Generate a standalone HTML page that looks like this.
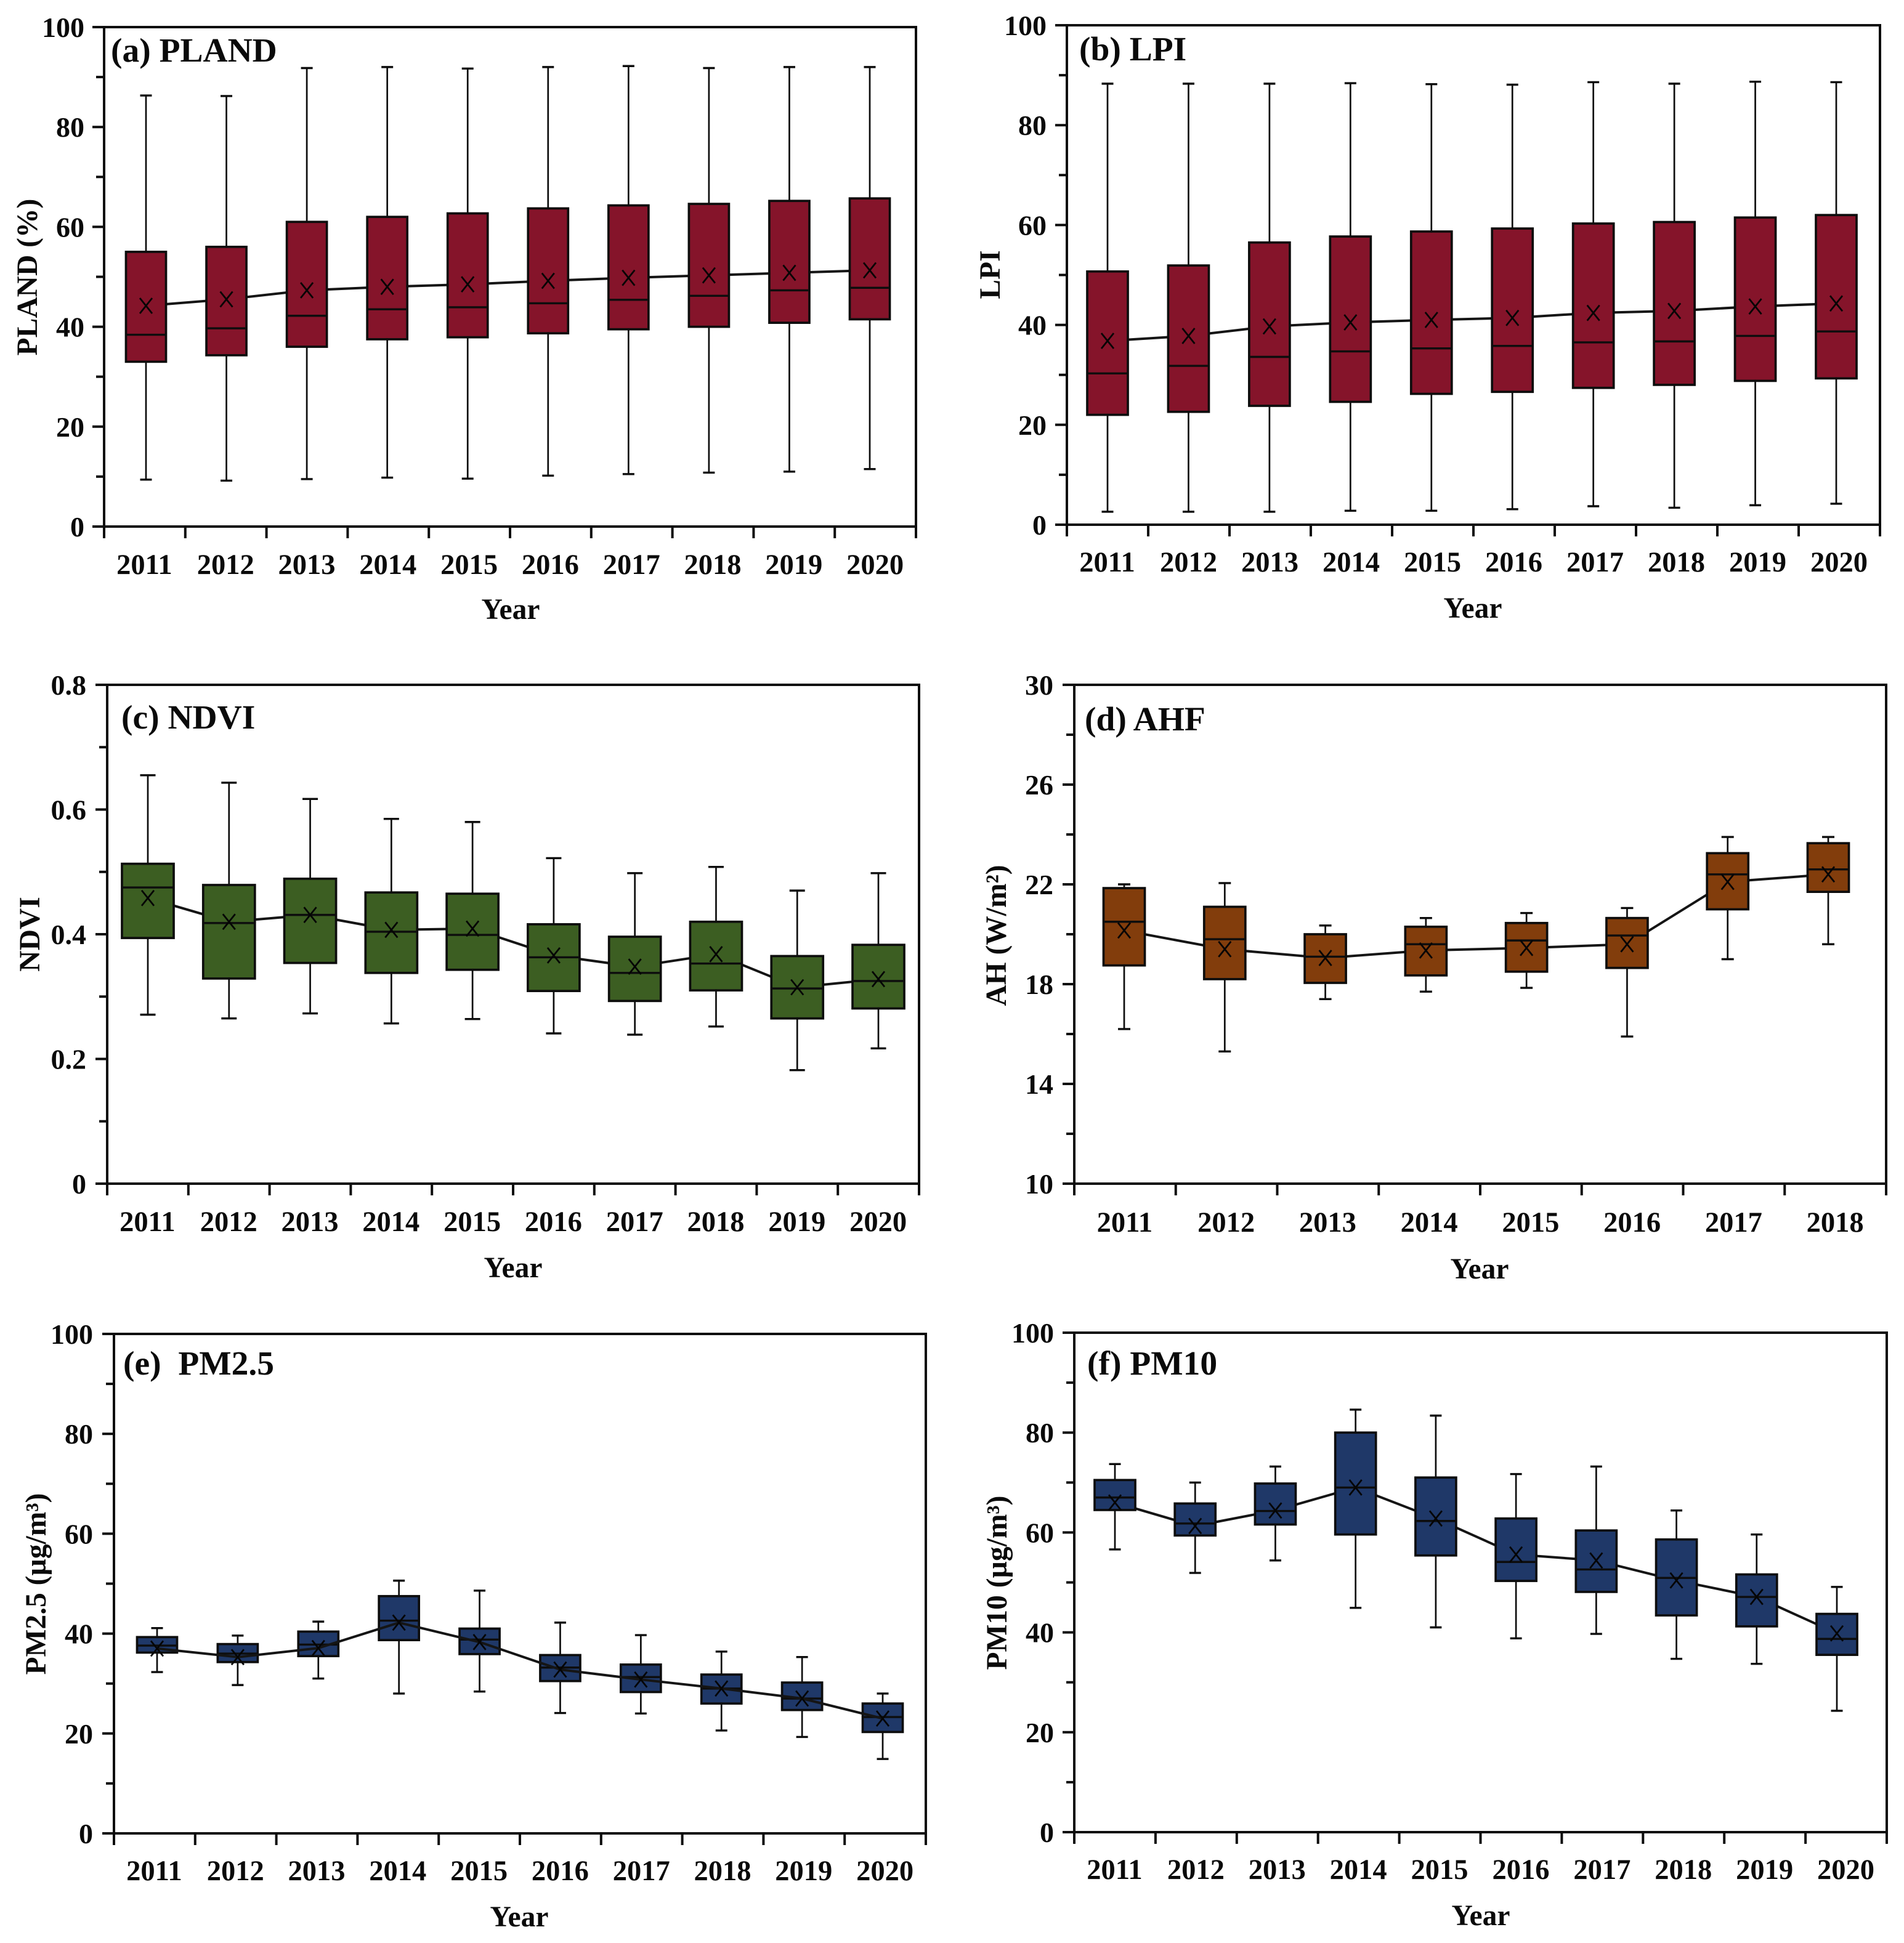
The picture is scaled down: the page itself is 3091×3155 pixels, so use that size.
<!DOCTYPE html>
<html lang="en">
<head>
<meta charset="utf-8">
<title>Boxplots of PLAND, LPI, NDVI, AHF, PM2.5 and PM10</title>
<style>
html,body{margin:0;padding:0;background:#fff;}
svg{display:block;font-family:"Liberation Serif","Noto Serif CJK SC",serif;font-weight:bold;fill:#0a0a0a;}
text{white-space:pre;}
</style>
</head>
<body>
<svg id="chart" xmlns="http://www.w3.org/2000/svg" width="3091" height="3155" viewBox="0 0 3091 3155"></svg>
<script>
const yearsTen = ['2011','2012','2013','2014','2015','2016','2017','2018','2019','2020'];
const yearsEight = ['2011','2012','2013','2014','2015','2016','2017','2018'];

const plandTicks = ['0','20','40','60','80','100'];
const plandHigh = [86.3,86.2,91.8,92,91.7,92,92.2,91.8,92,92];
const plandQ3 = [55,56,61,62,62.7,63.7,64.3,64.6,65.2,65.7];
const plandMedian = [38.4,39.7,42.2,43.5,43.9,44.7,45.4,46.2,47.3,47.8];
const plandMean = [44.2,45.5,47.3,48,48.5,49.2,49.8,50.3,50.8,51.3];
const plandQ1 = [33,34.3,36,37.5,37.9,38.7,39.5,40,40.8,41.5];
const plandLow = [9.4,9.2,9.5,9.8,9.6,10.2,10.5,10.8,11,11.5];

const lpiTicks = ['0','20','40','60','80','100'];
const lpiHigh = [88.3,88.3,88.3,88.4,88.2,88.1,88.6,88.3,88.7,88.6];
const lpiQ3 = [50.7,51.9,56.5,57.7,58.7,59.3,60.3,60.6,61.5,62];
const lpiMedian = [30.3,31.8,33.6,34.7,35.3,35.8,36.5,36.7,37.8,38.7];
const lpiMean = [36.8,37.8,39.7,40.5,41,41.4,42.4,42.8,43.7,44.3];
const lpiQ1 = [22,22.6,23.8,24.6,26.2,26.6,27.4,28,28.8,29.3];
const lpiLow = [2.6,2.6,2.6,2.8,2.8,3.1,3.7,3.4,3.9,4.2];

const ndviTicks = ['0','0.2','0.4','0.6','0.8'];
const ndviHigh = [0.655,0.643,0.617,0.585,0.58,0.522,0.498,0.508,0.47,0.498];
const ndviQ3 = [0.513,0.479,0.489,0.467,0.465,0.416,0.396,0.42,0.365,0.383];
const ndviMedian = [0.475,0.418,0.431,0.404,0.399,0.363,0.338,0.353,0.313,0.325];
const ndviMean = [0.458,0.42,0.431,0.407,0.409,0.366,0.348,0.368,0.315,0.328];
const ndviQ1 = [0.394,0.329,0.354,0.338,0.343,0.309,0.293,0.31,0.265,0.281];
const ndviLow = [0.271,0.265,0.273,0.257,0.264,0.241,0.239,0.252,0.182,0.217];

const ahfTicks = ['10','14','18','22','26','30'];
const ahfHigh = [22,22.05,20.35,20.65,20.85,21.05,23.9,23.9];
const ahfQ3 = [21.85,21.1,20,20.3,20.45,20.65,23.25,23.65];
const ahfMedian = [20.5,19.8,19.1,19.6,19.75,19.95,22.4,22.6];
const ahfMean = [20.15,19.4,19.05,19.35,19.45,19.6,22.1,22.4];
const ahfQ1 = [18.75,18.2,18.05,18.35,18.5,18.65,21,21.7];
const ahfLow = [16.2,15.3,17.4,17.7,17.85,15.9,19,19.6];

const pm25Ticks = ['0','20','40','60','80','100'];
const pm25High = [41.1,39.6,42.4,50.6,48.6,42.2,39.7,36.4,35.3,28];
const pm25Q3 = [39.3,37.9,40.4,47.5,41,35.7,33.8,31.8,30.2,26];
const pm25Median = [37.6,36,37.8,42.6,38.8,33.2,31.3,29,27,23.3];
const pm25Mean = [37,35.3,37.1,42.2,38.3,32.8,30.8,29,27,23];
const pm25Q1 = [36.2,34.3,35.5,38.7,35.9,30.5,28.3,26,24.7,20.3];
const pm25Low = [32.3,29.7,31,28,28.4,24.1,24,20.6,19.3,14.9];

const pm10Ticks = ['0','20','40','60','80','100'];
const pm10High = [73.7,70,73.2,84.6,83.4,71.7,73.2,64.4,59.6,49.1];
const pm10Q3 = [70.5,65.8,69.8,80,71,62.8,60.4,58.6,51.6,43.7];
const pm10Median = [67,61.8,64.3,69,62.3,54.1,52.6,50.9,47.1,38.7];
const pm10Mean = [66,61.3,64.4,69,62.8,55.6,54.4,50.4,47.1,39.8];
const pm10Q1 = [64.5,59.4,61.6,59.6,55.4,50.3,48.1,43.4,41.2,35.5];
const pm10Low = [56.6,51.9,54.4,44.9,41,38.8,39.7,34.7,33.7,24.3];

const panels = [
  {id:'pland',title:'(a) PLAND',yTitle:'PLAND (%)',color:'#85142a',cats:yearsTen,ticks:plandTicks,
   high:plandHigh,q3:plandQ3,med:plandMedian,mean:plandMean,q1:plandQ1,low:plandLow,
   L:169,R:1487,T:44,B:855,boxW:65,capW:19,boxFirst:237,boxLast:1412,titleX:180,titleY:100,yTitleX:60,yTitleY:450,xTitleX:829,xTitleY:1005,tickLabelY:932,yLabelGap:32,lineOnTop:false},
  {id:'lpi',title:'(b) LPI',yTitle:'LPI',color:'#85142a',cats:yearsTen,ticks:lpiTicks,
   high:lpiHigh,q3:lpiQ3,med:lpiMedian,mean:lpiMean,q1:lpiQ1,low:lpiLow,
   L:1732,R:3052,T:41,B:852,boxW:66,capW:19,boxFirst:1798,boxLast:2981,titleX:1752,titleY:98,yTitleX:1623,yTitleY:446,xTitleX:2391,xTitleY:1003,tickLabelY:928,yLabelGap:33,lineOnTop:false},
  {id:'ndvi',title:'(c) NDVI',yTitle:'NDVI',color:'#3c5e22',cats:yearsTen,ticks:ndviTicks,
   high:ndviHigh,q3:ndviQ3,med:ndviMedian,mean:ndviMean,q1:ndviQ1,low:ndviLow,
   L:174,R:1492,T:1112,B:1922,boxW:84,capW:25,boxFirst:240,boxLast:1426,titleX:197,titleY:1183,yTitleX:64,yTitleY:1517,xTitleX:833,xTitleY:2074,tickLabelY:1999,yLabelGap:34,lineOnTop:false},
  {id:'ahf',title:'(d) AHF',yTitle:'AH (W/m²)',color:'#823d0c',cats:yearsEight,ticks:ahfTicks,
   high:ahfHigh,q3:ahfQ3,med:ahfMedian,mean:ahfMean,q1:ahfQ1,low:ahfLow,
   L:1744,R:3062,T:1112,B:1922,boxW:67,capW:20,boxFirst:1825,boxLast:2968,titleX:1761,titleY:1186,yTitleX:1633,yTitleY:1519,xTitleX:2402,xTitleY:2076,tickLabelY:2000,yLabelGap:34,lineOnTop:false},
  {id:'pm25',title:'(e)  PM2.5',yTitle:'PM2.5 (µg/m³)',color:'#1f3868',cats:yearsTen,ticks:pm25Ticks,
   high:pm25High,q3:pm25Q3,med:pm25Median,mean:pm25Mean,q1:pm25Q1,low:pm25Low,
   L:185,R:1503,T:2166,B:2977,boxW:65,capW:19,boxFirst:255,boxLast:1433,titleX:200,titleY:2232,yTitleX:74,yTitleY:2572,xTitleX:843,xTitleY:3128,tickLabelY:3053,yLabelGap:34,lineOnTop:true},
  {id:'pm10',title:'(f) PM10',yTitle:'PM10 (µg/m³)',color:'#1f3868',cats:yearsTen,ticks:pm10Ticks,
   high:pm10High,q3:pm10Q3,med:pm10Median,mean:pm10Mean,q1:pm10Q1,low:pm10Low,
   L:1744,R:3063,T:2164,B:2975,boxW:66,capW:19,boxFirst:1810,boxLast:2982,titleX:1765,titleY:2232,yTitleX:1634,yTitleY:2570,xTitleX:2404,xTitleY:3126,tickLabelY:3051,yLabelGap:33,lineOnTop:false}
];

const INK = '#0d0d0d';
const SVGNS = 'http://www.w3.org/2000/svg';
const root = document.getElementById('chart');

function make(tag, attrs, parent) {
  const node = document.createElementNS(SVGNS, tag);
  for (const key in attrs) node.setAttribute(key, attrs[key]);
  parent.appendChild(node);
  return node;
}
function seg(parent, x1, y1, x2, y2, width, color) {
  return make('line', {x1:x1, y1:y1, x2:x2, y2:y2, stroke:color || INK, 'stroke-width':width, fill:'none'}, parent);
}

function drawPanel(p) {
  const panel = make('g', {}, root);
  
  

  const tickNums = p.ticks.map(Number);
  const yMin = tickNums[0];
  const yMax = tickNums[tickNums.length - 1];
  const yScale = v => p.B - (v - yMin) / (yMax - yMin) * (p.B - p.T);
  const band = (p.R - p.L) / p.cats.length;
  const xEdge = i => p.L + band * i;
  const xLabel = i => p.L + band * (i + 0.5);
  const xScale = i => p.boxFirst + (p.boxLast - p.boxFirst) * i / (p.cats.length - 1);
  let el;

  // mean connecting line (behind boxes unless lineOnTop)
  function drawMeanLine() {
    const pts = p.mean.map((v, i) => xScale(i).toFixed(1) + ',' + yScale(v).toFixed(1)).join(' ');
    el = make('polyline', {points:pts, fill:'none', stroke:'#151515', 'stroke-width':4, 'stroke-linejoin':'round'}, panel);
    
    
  }
  if (!p.lineOnTop) drawMeanLine();

  // boxes
  const boxLayer = make('g', {}, panel);
  
  
  p.cats.forEach((year, i) => {
    const cx = xScale(i);
    const g = make('g', {}, boxLayer);
    
    

    el = seg(g, cx, yScale(p.high[i]), cx, yScale(p.q3[i]), 2.7);
    
    

    el = seg(g, cx, yScale(p.q1[i]), cx, yScale(p.low[i]), 2.7);
    
    

    el = seg(g, cx - p.capW / 2, yScale(p.high[i]), cx + p.capW / 2, yScale(p.high[i]), 3.4);
    
    

    el = seg(g, cx - p.capW / 2, yScale(p.low[i]), cx + p.capW / 2, yScale(p.low[i]), 3.4);
    
    

    el = make('rect', {x:cx - p.boxW / 2, y:yScale(p.q3[i]), width:p.boxW, height:yScale(p.q1[i]) - yScale(p.q3[i]), fill:p.color, stroke:INK, 'stroke-width':3.7}, g);
    
    

    el = seg(g, cx - p.boxW / 2, yScale(p.med[i]), cx + p.boxW / 2, yScale(p.med[i]), 3.4);
    
    
  });

  if (p.lineOnTop) drawMeanLine();

  // mean markers
  p.cats.forEach((year, i) => {
    const cx = xScale(i), cy = yScale(p.mean[i]), hw = 10, hh = 12.5;
    el = make('path', {d:'M' + (cx - hw) + ' ' + (cy - hh) + 'L' + (cx + hw) + ' ' + (cy + hh) + 'M' + (cx - hw) + ' ' + (cy + hh) + 'L' + (cx + hw) + ' ' + (cy - hh), fill:'none', stroke:'#050505', 'stroke-width':2.8}, panel);
    
    
  });

  // frame
  el = make('rect', {x:p.L, y:p.T, width:p.R - p.L, height:p.B - p.T, fill:'none', stroke:INK, 'stroke-width':4}, panel);
  
  

  // y ticks and labels
  p.ticks.forEach((label, i) => {
    const y = yScale(tickNums[i]);
    el = seg(panel, p.L - 19, y, p.L, y, 4);
    
    

    el = make('text', {x:p.L - p.yLabelGap, y:y + 16, 'text-anchor':'end', 'font-size':46}, panel);
    el.textContent = label;
    
    

    if (i < p.ticks.length - 1) {
      const ym = yScale((tickNums[i] + tickNums[i + 1]) / 2);
      el = seg(panel, p.L - 13, ym, p.L, ym, 4);
      
      
    }
  });

  // x ticks and labels
  for (let i = 0; i <= p.cats.length; i++) {
    el = seg(panel, xEdge(i), p.B, xEdge(i), p.B + 19, 4);
    
    
  }
  p.cats.forEach((year, i) => {
    el = make('text', {x:xLabel(i) - 0.5, y:p.tickLabelY, 'text-anchor':'middle', 'font-size':46.5}, panel);
    el.textContent = year;
    
    
  });

  // titles
  el = make('text', {x:p.titleX, y:p.titleY, 'font-size':55.5}, panel);
  el.textContent = p.title;
  
  

  el = make('text', {x:p.xTitleX, y:p.xTitleY, 'text-anchor':'middle', 'font-size':47.5}, panel);
  el.textContent = 'Year';
  
  

  el = make('text', {x:p.yTitleX, y:p.yTitleY, 'text-anchor':'middle', 'font-size':47.5, transform:'rotate(-90 ' + p.yTitleX + ' ' + p.yTitleY + ')'}, panel);
  el.textContent = p.yTitle;
  
  
}

panels.forEach(drawPanel);
</script>
</body>
</html>
